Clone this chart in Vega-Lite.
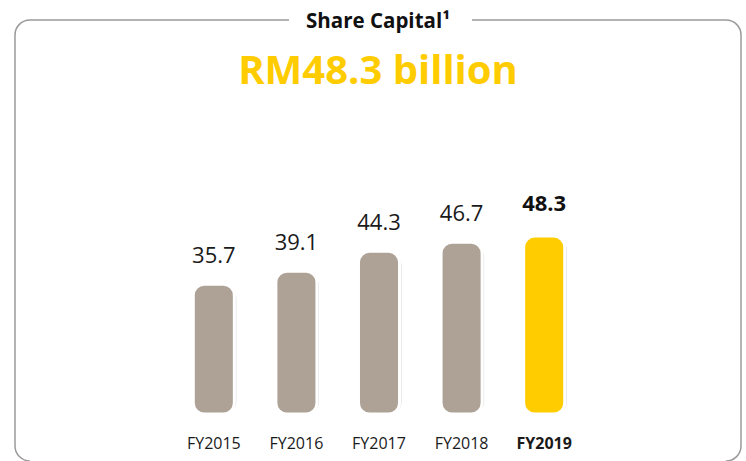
{
  "$schema": "https://vega.github.io/schema/vega-lite/v6.json",
  "width": 726,
  "height": 441,
  "autosize": {"type": "none"},
  "padding": {"left": 15, "top": 20, "right": 5, "bottom": 0},
  "background": "white",
  "config": {
    "font": "Open Sans",
    "view": {"stroke": "#9a9a9a", "strokeWidth": 1.5, "cornerRadius": 15, "strokeDash": [259, 183, 712, 696, 600]}
  },
  "title": {
    "text": "Share Capital¹",
    "subtitle": "RM48.3 billion",
    "anchor": "middle",
    "frame": "group",
    "baseline": "top",
    "font": "Open Sans",
    "fontSize": 20.5,
    "fontWeight": "bold",
    "color": "#111111",
    "subtitleFont": "Open Sans",
    "subtitleFontSize": 40,
    "subtitleFontWeight": "bold",
    "subtitleColor": "#FFCC00",
    "subtitlePadding": 20,
    "offset": -72
  },
  "data": {
    "values": [
      {"year": "FY2015", "value": 35.7},
      {"year": "FY2016", "value": 39.1},
      {"year": "FY2017", "value": 44.3},
      {"year": "FY2018", "value": 46.7},
      {"year": "FY2019", "value": 48.3}
    ]
  },
  "encoding": {
    "x": {
      "field": "year",
      "type": "nominal",
      "sort": null,
      "scale": {"range": [137, 591], "paddingInner": 0.503, "paddingOuter": 0.5},
      "axis": {
        "title": null,
        "domain": false,
        "ticks": false,
        "grid": false,
        "labelAngle": 0,
        "labelFont": "Open Sans",
        "labelFontSize": 16,
        "labelColor": "#1a1a1a",
        "labelPadding": 0,
        "labelBaseline": "middle",
        "offset": -18,
        "labelFontWeight": {"condition": {"test": "datum.value === 'FY2019'", "value": "bold"}, "value": "normal"}
      }
    },
    "y": {
      "field": "value",
      "type": "quantitative",
      "scale": {"domain": [-10.7, 105], "zero": false, "nice": false},
      "axis": null
    }
  },
  "layer": [
    {
      "mark": {"type": "bar", "color": "#dadada", "cornerRadius": 12, "xOffset": 2, "yOffset": 2},
      "encoding": {"y2": {"datum": 1.6}}
    },
    {
      "mark": {"type": "bar", "cornerRadius": 11, "stroke": "white", "strokeWidth": 3},
      "encoding": {
        "y2": {"datum": 1.6},
        "color": {"condition": {"test": "datum.year === 'FY2019'", "value": "#FFCC00"}, "value": "#AEA297"}
      }
    },
    {
      "transform": [{"filter": "datum.year !== 'FY2019'"}],
      "mark": {"type": "text", "baseline": "alphabetic", "dy": -21, "fontSize": 22, "color": "#1a1a1a", "font": "Open Sans"},
      "encoding": {"text": {"field": "value", "type": "quantitative", "format": ".1f"}}
    },
    {
      "transform": [{"filter": "datum.year === 'FY2019'"}],
      "mark": {"type": "text", "baseline": "alphabetic", "dy": -25, "fontSize": 22, "fontWeight": "bold", "color": "#111111", "font": "Open Sans"},
      "encoding": {"text": {"field": "value", "type": "quantitative", "format": ".1f"}}
    }
  ]
}
